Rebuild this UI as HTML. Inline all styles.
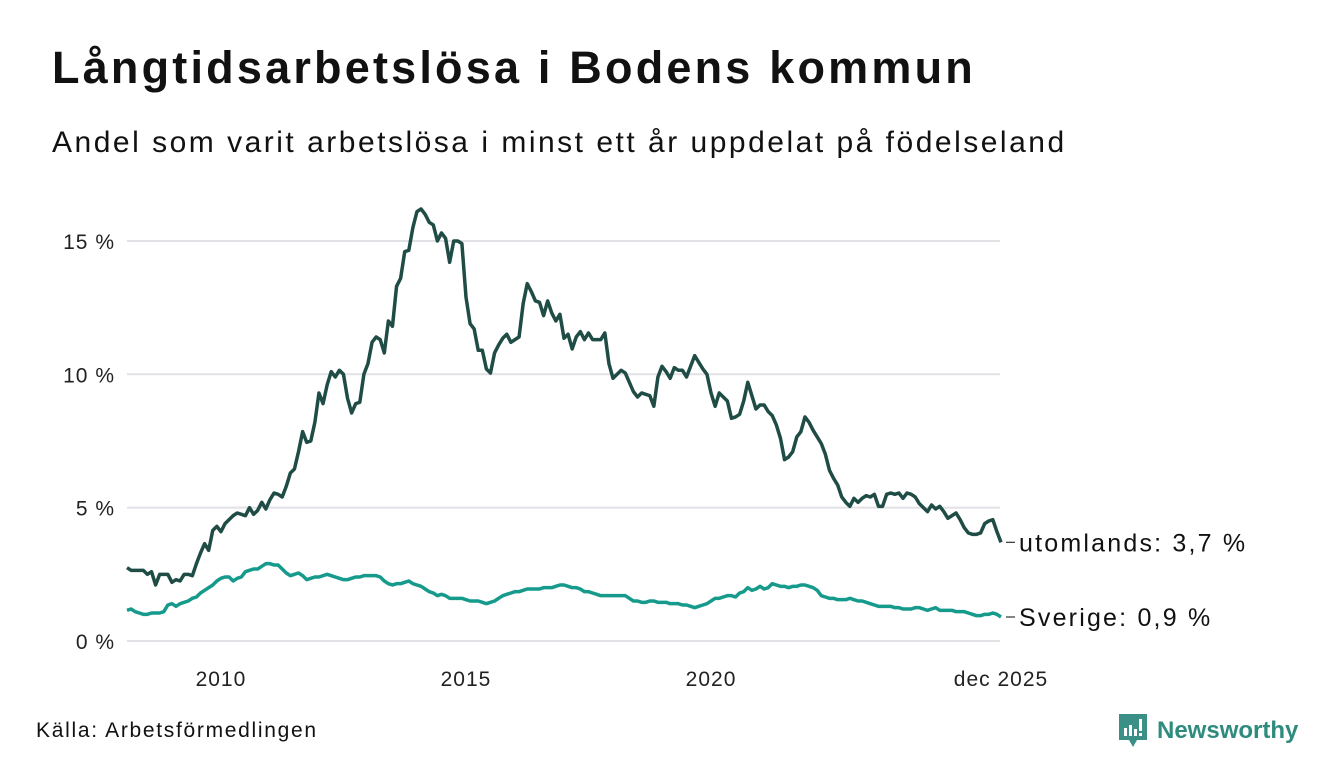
<!DOCTYPE html>
<html><head><meta charset="utf-8">
<style>
html,body{margin:0;padding:0;background:#fff;}
body{width:1340px;height:780px;overflow:hidden;position:relative;font-family:"Liberation Sans","DejaVu Sans",sans-serif;color:#111;}
#title{position:absolute;left:52px;top:42px;font-size:45px;font-weight:bold;margin:0;letter-spacing:3.2px;}
#subtitle{position:absolute;left:52px;top:126px;font-size:30px;letter-spacing:2.5px;}
#source{position:absolute;left:36px;top:719px;font-size:21px;letter-spacing:1.7px;}
#logo{position:absolute;left:1119px;top:714px;display:flex;align-items:center;}
#logo span{font-size:24px;font-weight:bold;color:#2e8b7e;margin-left:10px;}
svg{position:absolute;left:0;top:0;}
</style></head>
<body>
<h1 id="title">Långtidsarbetslösa i Bodens kommun</h1>
<div id="subtitle">Andel som varit arbetslösa i minst ett år uppdelat på födelseland</div>
<div id="source">Källa: Arbetsförmedlingen</div>
<div id="logo">
<svg width="28" height="34" viewBox="0 0 28 34" style="position:static">
<path d="M0 0H28V26H18L14 33L10 26H0Z" fill="#3a8f86"/>
<rect x="5" y="14" width="3" height="8" fill="#fff"/><rect x="10" y="11" width="3" height="11" fill="#fff"/><rect x="15" y="15" width="3" height="7" fill="#fff"/><rect x="20" y="5" width="3" height="12" fill="#fff"/><rect x="20" y="19" width="3" height="3" fill="#fff"/>
</svg><span>Newsworthy</span></div>
<svg id="chart" width="1340" height="780"></svg>
<script>
const yTicks=[0,5,10,15];
const yTickLabels=["0 %","5 %","10 %","15 %"];
const xTicks=[2010,2015,2020];
const xTickLabels=["2010","2015","2020"];
const startYear=2008+1/12;
const utomlands=[
2.75,2.65,2.65,2.65,2.65,2.5,2.6,2.1,2.5,2.5,2.5,
2.2,2.3,2.25,2.5,2.5,2.45,2.9,3.3,3.65,3.4,4.15,4.3,
4.1,4.4,4.55,4.7,4.8,4.75,4.7,5.0,4.75,4.9,5.2,4.95,
5.3,5.55,5.5,5.4,5.8,6.3,6.45,7.1,7.85,7.45,7.5,8.2,
9.3,8.9,9.6,10.1,9.9,10.15,10.0,9.1,8.55,8.9,8.95,10.0,
10.4,11.2,11.4,11.3,10.8,12.0,11.8,13.3,13.6,14.6,14.65,15.5,
16.1,16.2,16.0,15.7,15.6,15.0,15.3,15.1,14.2,15.0,15.0,14.9,
12.9,11.9,11.7,10.9,10.9,10.2,10.05,10.8,11.1,11.35,11.5,11.2,
11.3,11.4,12.65,13.4,13.1,12.75,12.7,12.2,12.75,12.3,12.0,12.25,
11.35,11.5,10.95,11.4,11.6,11.3,11.55,11.3,11.3,11.3,11.55,10.4,
9.85,10.0,10.15,10.05,9.7,9.35,9.15,9.3,9.25,9.2,8.8,9.9,
10.3,10.1,9.85,10.25,10.15,10.15,9.9,10.3,10.7,10.45,10.2,10.0,
9.3,8.8,9.3,9.15,9.0,8.35,8.4,8.5,9.0,9.7,9.2,8.7,
8.85,8.85,8.6,8.45,8.1,7.6,6.8,6.9,7.1,7.65,7.85,8.4,
8.2,7.9,7.65,7.4,7.0,6.4,6.1,5.85,5.4,5.2,5.05,5.35,
5.2,5.35,5.45,5.4,5.5,5.05,5.05,5.5,5.55,5.5,5.55,5.35,
5.55,5.5,5.4,5.15,5.0,4.85,5.1,4.95,5.05,4.85,4.6,4.7,
4.8,4.55,4.25,4.05,4.0,4.0,4.05,4.4,4.5,4.55,4.1,3.7];
const sverige=[
1.15,1.2,1.1,1.05,1.0,1.0,1.05,1.05,1.05,1.1,1.35,
1.4,1.3,1.4,1.45,1.5,1.6,1.65,1.8,1.9,2.0,2.1,2.25,
2.35,2.4,2.4,2.25,2.35,2.4,2.6,2.65,2.7,2.7,2.8,2.9,
2.9,2.85,2.85,2.7,2.55,2.45,2.5,2.55,2.45,2.3,2.35,2.4,
2.4,2.45,2.5,2.45,2.4,2.35,2.3,2.3,2.35,2.4,2.4,2.45,
2.45,2.45,2.45,2.4,2.25,2.15,2.1,2.15,2.15,2.2,2.25,2.15,
2.1,2.05,1.95,1.85,1.8,1.7,1.75,1.7,1.6,1.6,1.6,1.6,
1.55,1.5,1.5,1.5,1.45,1.4,1.45,1.5,1.6,1.7,1.75,1.8,
1.85,1.85,1.9,1.95,1.95,1.95,1.95,2.0,2.0,2.0,2.05,2.1,
2.1,2.05,2.0,2.0,1.95,1.85,1.85,1.8,1.75,1.7,1.7,1.7,
1.7,1.7,1.7,1.7,1.6,1.5,1.5,1.45,1.45,1.5,1.5,1.45,
1.45,1.45,1.4,1.4,1.4,1.35,1.35,1.3,1.25,1.3,1.35,1.4,
1.5,1.6,1.6,1.65,1.7,1.7,1.65,1.8,1.85,2.0,1.9,1.95,
2.05,1.95,2.0,2.15,2.1,2.05,2.05,2.0,2.05,2.05,2.1,2.1,
2.05,2.0,1.9,1.7,1.65,1.6,1.6,1.55,1.55,1.55,1.6,1.55,
1.5,1.5,1.45,1.4,1.35,1.3,1.3,1.3,1.3,1.25,1.25,1.2,
1.2,1.2,1.25,1.25,1.2,1.15,1.2,1.25,1.15,1.15,1.15,1.15,
1.1,1.1,1.1,1.05,1.0,0.95,0.95,1.0,1.0,1.05,1.0,0.9];

const NS='http://www.w3.org/2000/svg';
const svg=document.getElementById('chart');
const X0=127,X1=1001,Y0=641,PXPCT=26.67;
const endYear=startYear+(utomlands.length-1)/12;
function xs(t){return X0+(t-startYear)/(endYear-startYear)*(X1-X0);}
function ys(v){return Y0-v*PXPCT;}
function mk(tag,attrs){const e=document.createElementNS(NS,tag);for(const k in attrs)e.setAttribute(k,attrs[k]);svg.appendChild(e);return e;}

yTicks.forEach((v,i)=>{
  const g=mk('line',{x1:X0,x2:1000,y1:ys(v),y2:ys(v),stroke:'#e1e1e6','stroke-width':2});
  
  
  const t=mk('text',{x:115,y:ys(v)+8,'text-anchor':'end','font-size':21,'letter-spacing':1,fill:'#222','font-family':'Liberation Sans, sans-serif'});
  t.textContent=yTickLabels[i];
  
  
});
xTicks.forEach((v,i)=>{
  const t=mk('text',{x:xs(v),y:686,'text-anchor':'middle','font-size':21,'letter-spacing':1,fill:'#222','font-family':'Liberation Sans, sans-serif'});
  t.textContent=xTickLabels[i];
  
  
});
const tl=mk('text',{x:X1,y:686,'text-anchor':'middle','font-size':21,'letter-spacing':1,fill:'#222','font-family':'Liberation Sans, sans-serif'});
tl.textContent='dec 2025';



function series(arr,color,name,label){
  const d=arr.map((v,i)=>(i?'L':'M')+xs(startYear+i/12).toFixed(2)+','+ys(v).toFixed(2)).join('');
  const p=mk('path',{d:d,fill:'none',stroke:color,'stroke-width':3.5,'stroke-linejoin':'round'});
  
  
  const last=arr[arr.length-1];
  const ly=ys(last);
  const tick=mk('line',{x1:X1+5,x2:X1+14,y1:ly,y2:ly,stroke:'#333','stroke-width':1.2});
  
  
  const t=mk('text',{x:X1+18,y:ly+9,'font-size':25,'letter-spacing':2.2,fill:'#111','font-family':'Liberation Sans, sans-serif'});
  t.textContent=label+': '+String(last.toFixed(1)).replace('.',',')+' %';
  
  
}
series(sverige,'#159a8c','sverige','Sverige');
series(utomlands,'#1f4d46','utomlands','utomlands');
</script>
</body></html>
